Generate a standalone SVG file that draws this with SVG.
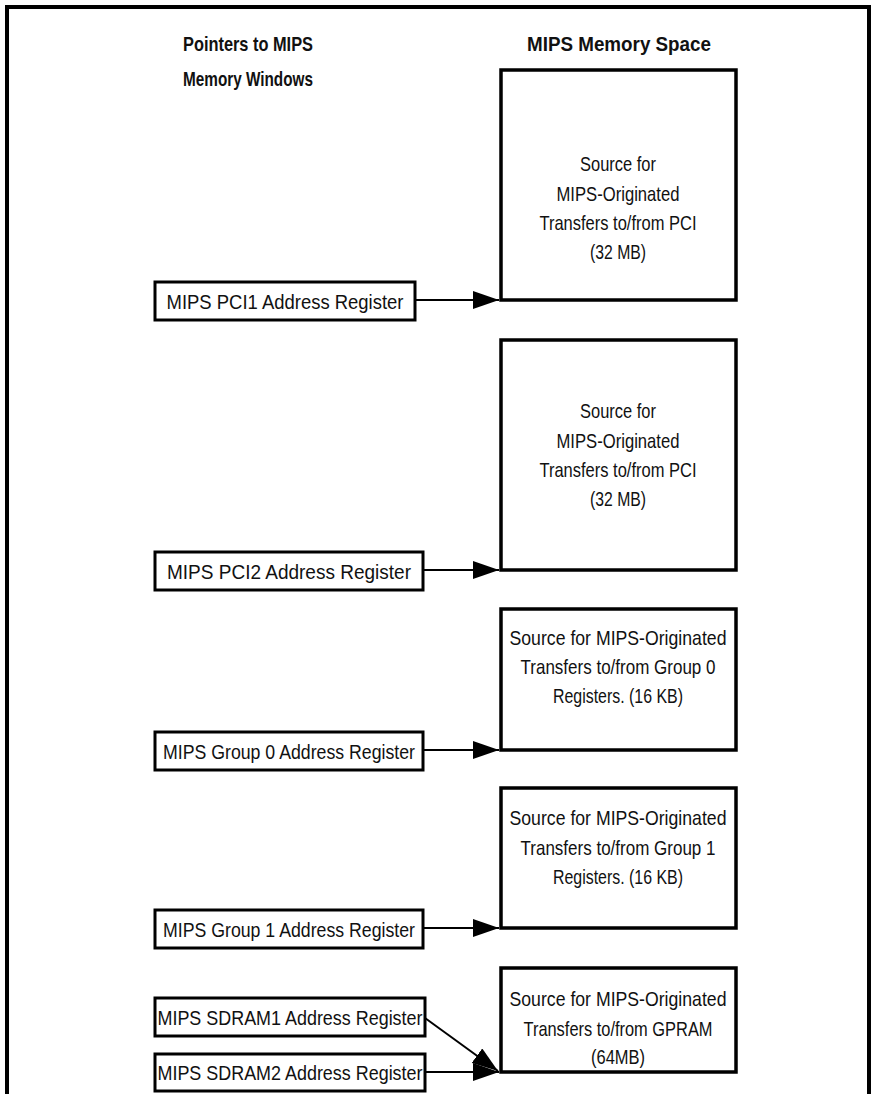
<svg xmlns="http://www.w3.org/2000/svg" width="876" height="1094" viewBox="0 0 876 1094">
  <style>
    .frame { fill: none; stroke: #000; stroke-width: 4; }
    .mem { fill: #fff; stroke: #000; stroke-width: 3.5; }
    .reg { fill: #fff; stroke: #000; stroke-width: 3; }
    .wire { fill: none; stroke: #000; stroke-width: 2; }
    text { font-family: "Liberation Sans", Arial, sans-serif; font-size: 21px; fill: #111; text-anchor: middle; }
    .title { font-weight: bold; }
  </style>
  <defs>
    <marker id="arrow" markerWidth="26" markerHeight="18" refX="26" refY="9" orient="auto" markerUnits="userSpaceOnUse">
      <path d="M0,0 L26,9 L0,18 Z" fill="#000"/>
    </marker>
  </defs>
  <rect width="876" height="1094" fill="#fff"/>
  <!-- outer frame, open at the bottom edge -->
  <path class="frame" d="M7,1100 V7 H869 V1100"/>

  <g id="headings">
    <text class="title" x="248" y="51" textLength="130" lengthAdjust="spacingAndGlyphs">Pointers to MIPS</text>
    <text class="title" x="248" y="86" textLength="130" lengthAdjust="spacingAndGlyphs">Memory Windows</text>
    <text class="title" x="619" y="51" textLength="184" lengthAdjust="spacingAndGlyphs">MIPS Memory Space</text>
  </g>

  <!-- memory windows -->
  <g id="mem-pci1">
    <rect class="mem" x="501" y="70" width="235" height="230"/>
    <text x="618" y="171" textLength="76" lengthAdjust="spacingAndGlyphs">Source for</text>
    <text x="618" y="201" textLength="123" lengthAdjust="spacingAndGlyphs">MIPS-Originated</text>
    <text x="618" y="230" textLength="157" lengthAdjust="spacingAndGlyphs">Transfers to/from PCI</text>
    <text x="618" y="259" textLength="56" lengthAdjust="spacingAndGlyphs">(32 MB)</text>
  </g>
  <g id="mem-pci2">
    <rect class="mem" x="501" y="340" width="235" height="230"/>
    <text x="618" y="418" textLength="76" lengthAdjust="spacingAndGlyphs">Source for</text>
    <text x="618" y="448" textLength="123" lengthAdjust="spacingAndGlyphs">MIPS-Originated</text>
    <text x="618" y="477" textLength="157" lengthAdjust="spacingAndGlyphs">Transfers to/from PCI</text>
    <text x="618" y="506" textLength="56" lengthAdjust="spacingAndGlyphs">(32 MB)</text>
  </g>
  <g id="mem-group0">
    <rect class="mem" x="501" y="609" width="235" height="141"/>
    <text x="618" y="645" textLength="217" lengthAdjust="spacingAndGlyphs">Source for MIPS-Originated</text>
    <text x="618" y="674" textLength="195" lengthAdjust="spacingAndGlyphs">Transfers to/from Group 0</text>
    <text x="618" y="703" textLength="130" lengthAdjust="spacingAndGlyphs">Registers. (16 KB)</text>
  </g>
  <g id="mem-group1">
    <rect class="mem" x="501" y="788" width="235" height="140"/>
    <text x="618" y="825" textLength="217" lengthAdjust="spacingAndGlyphs">Source for MIPS-Originated</text>
    <text x="618" y="855" textLength="195" lengthAdjust="spacingAndGlyphs">Transfers to/from Group 1</text>
    <text x="618" y="884" textLength="130" lengthAdjust="spacingAndGlyphs">Registers. (16 KB)</text>
  </g>
  <g id="mem-gpram">
    <rect class="mem" x="501" y="968" width="235" height="104"/>
    <text x="618" y="1006" textLength="217" lengthAdjust="spacingAndGlyphs">Source for MIPS-Originated</text>
    <text x="618" y="1036" textLength="189" lengthAdjust="spacingAndGlyphs">Transfers to/from GPRAM</text>
    <text x="618" y="1064" textLength="54" lengthAdjust="spacingAndGlyphs">(64MB)</text>
  </g>

  <!-- address registers -->
  <g id="reg-pci1">
    <rect class="reg" x="155" y="282" width="260" height="38"/>
    <text x="285" y="309" textLength="237" lengthAdjust="spacingAndGlyphs">MIPS PCI1 Address Register</text>
  </g>
  <g id="reg-pci2">
    <rect class="reg" x="155" y="552" width="268" height="38"/>
    <text x="289" y="579" textLength="244" lengthAdjust="spacingAndGlyphs">MIPS PCI2 Address Register</text>
  </g>
  <g id="reg-group0">
    <rect class="reg" x="155" y="732" width="268" height="38"/>
    <text x="289" y="759" textLength="252" lengthAdjust="spacingAndGlyphs">MIPS Group 0 Address Register</text>
  </g>
  <g id="reg-group1">
    <rect class="reg" x="155" y="910" width="268" height="38"/>
    <text x="289" y="937" textLength="252" lengthAdjust="spacingAndGlyphs">MIPS Group 1 Address Register</text>
  </g>
  <g id="reg-sdram1">
    <rect class="reg" x="155" y="998" width="270" height="38"/>
    <text x="290" y="1025" textLength="265" lengthAdjust="spacingAndGlyphs">MIPS SDRAM1 Address Register</text>
  </g>
  <g id="reg-sdram2">
    <rect class="reg" x="155" y="1054" width="270" height="37"/>
    <text x="290" y="1080" textLength="265" lengthAdjust="spacingAndGlyphs">MIPS SDRAM2 Address Register</text>
  </g>

  <g id="connectors">
    <line class="wire" x1="415" y1="300" x2="499" y2="300" marker-end="url(#arrow)"/>
    <line class="wire" x1="423" y1="570" x2="499" y2="570" marker-end="url(#arrow)"/>
    <line class="wire" x1="423" y1="750" x2="499" y2="750" marker-end="url(#arrow)"/>
    <line class="wire" x1="423" y1="928" x2="499" y2="928" marker-end="url(#arrow)"/>
    <line class="wire" x1="425" y1="1018" x2="498" y2="1071" marker-end="url(#arrow)"/>
    <line class="wire" x1="425" y1="1072" x2="499" y2="1072" marker-end="url(#arrow)"/>
  </g>
</svg>
